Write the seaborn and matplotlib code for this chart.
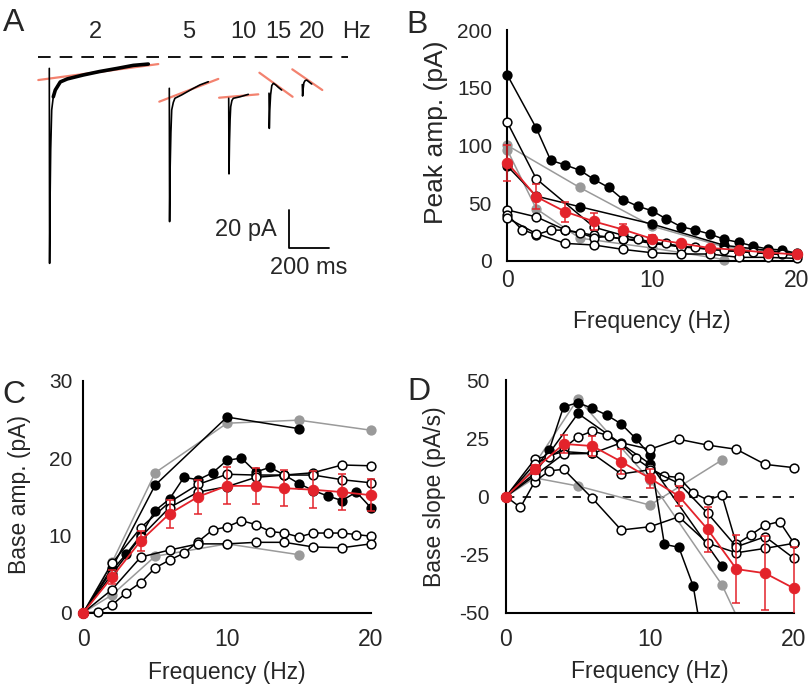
import matplotlib
matplotlib.use("Agg")
import matplotlib.pyplot as plt
import matplotlib.transforms as mtransforms
import seaborn as sns

sns.set_theme(style="white")
plt.rcParams['font.family'] = ['Liberation Sans', 'DejaVu Sans']
plt.rcParams['axes.unicode_minus'] = False

RED = '#e3232b'
GRAY = '#9a9a9a'
SALMON = '#f3826f'

# ---------------- panel A: example traces ----------------
# time (ms) from stimulus onset, current (pA) relative to the resting baseline
tr2_t = [0, 1.5, 4, 7, 12, 20, 30, 55, 90, 170, 250, 340, 420, 495]
tr2_i = [-5.9, -109.6, -75, -49, -28, -21, -17.4, -13.1, -11.5, -9.4, -7.6, -5.9, -4.3, -3.6]
tr5_t = [0, 1.5, 4, 8, 12, 20, 28, 62, 112, 153, 195]
tr5_i = [-16.5, -87.4, -60, -40, -28, -24, -21.8, -20, -17, -14.7, -13]
tr10_t = [0, 1.5, 4, 7, 10, 16, 23, 57, 98]
tr10_i = [-21.8, -62, -45, -33, -26.3, -23, -21.8, -21, -19.7]
tr15_t = [0, 1.5, 4, 8, 14, 22, 35, 47, 63]
tr15_i = [-19.1, -37.8, -28, -20, -15, -13.8, -14.8, -16, -17.4]
tr20_t = [0, 1.5, 4, 8, 14, 22, 35, 47]
tr20_i = [-14.5, -20.6, -17, -13.5, -12.4, -12.1, -13.2, -14.2]

# linear fits of the baseline drift (start t, start i, end t, end i)
fit2 = [-55, -12.1, 545, -3.6]
fit5 = [-50, -23.6, 245, -11.5]
fit10 = [-48, -21.5, 148, -19.7]
fit15 = [-48, -8.2, 118, -21.0]
fit20 = [-50, -6.4, 100, -17.4]

trace_freqs = ['2', '5', '10', '15', '20']

# ---------------- panel B: peak amplitude (pA) ----------------
b_black1_x = [0, 2, 3, 4, 5, 6, 7, 8, 9, 10, 11, 12, 13, 14, 15, 16, 17, 18, 19, 20]
b_black1_y = [161, 115, 87, 83, 78.5, 70.4, 63.5, 53, 47.3, 43.3, 36.1, 29.5, 26.6, 23.1,
              18.5, 15.9, 12.7, 10.1, 9.3, 6.4]
b_black2_x = [0, 2, 5, 10, 15, 20]
b_black2_y = [82, 56, 46.8, 31.8, 13.3, 6]
b_open1_x = [0, 2, 6, 8, 10, 12, 14, 16, 18, 20]
b_open1_y = [120, 71, 29, 22, 16, 12.5, 10, 8, 6, 5]
b_open2_x = [0, 2, 4, 6, 8, 10, 12, 14, 16, 18, 20]
b_open2_y = [44, 38, 26.7, 22, 19, 15, 12, 10, 8, 6.5, 5]
b_open3_x = list(range(0, 21))
b_open3_y = [40, 27, 22.5, 26.5, 26.5, 24, 20, 21, 18.5, 18.5, 15, 15, 12, 11.5, 10, 9,
             8.5, 7.5, 6.5, 6, 5]
b_open4_x = [0, 2, 4, 6, 8, 10, 12, 14, 16, 18, 20]
b_open4_y = [37, 23.5, 15, 13.6, 9.8, 6.9, 5.8, 5.8, 2.9, 2.9, 2.0]
b_gray1_x = [0, 5, 10, 15, 20]
b_gray1_y = [100, 63.5, 30, 12, 6]
b_gray2_x = [0, 2, 5, 10, 15]
b_gray2_y = [96, 45, 19.6, 11, 1]
b_mean_x = [0, 2, 4, 6, 8, 10, 12, 14, 16, 18, 20]
b_mean_y = [85, 55.5, 42.5, 34, 27, 19, 15, 11, 9.3, 7, 5.5]
b_mean_err = [15.5, 11, 8.6, 7, 5, 3.5, 2.5, 2, 1.5, 1.2, 1]

# ---------------- panel C: base amplitude (pA) ----------------
c_black1_x = [0, 2, 5, 10, 15]
c_black1_y = [0, 5.8, 16.5, 25.3, 23.8]
c_black2_x = [0, 2, 3, 4, 5, 6, 7, 8, 9, 10, 11, 12, 13, 14, 15, 16, 17, 18, 19, 20]
c_black2_y = [0, 5.5, 7.6, 10.0, 13.2, 14.7, 17.5, 17.2, 18.1, 19.7, 20.0, 18.2, 18.8,
              17.8, 16.7, 15.8, 15.1, 14.5, 15.6, 13.6]
c_open1_x = [0, 2, 4, 6, 8, 10, 12, 14, 16, 18, 20]
c_open1_y = [0, 6.4, 11.0, 14.3, 16.6, 17.9, 17.8, 17.8, 18.1, 19.1, 19.0]
c_open2_x = [0, 2, 4, 6, 8, 10, 12, 14, 16, 18, 20]
c_open2_y = [0, 5.0, 9.8, 13.6, 15.6, 16.3, 17.5, 17.8, 17.8, 17.2, 16.8]
c_open3_x = list(range(0, 21))
c_open3_y = [0, 0.05, 1.0, 2.6, 3.9, 5.8, 6.8, 7.7, 9.2, 10.7, 11.1, 11.9, 11.4, 10.5,
             10.3, 9.8, 10.3, 10.3, 10.3, 10.1, 9.9]
c_open4_x = [0, 2, 4, 6, 8, 10, 12, 14, 16, 18, 20]
c_open4_y = [0, 3.0, 7.2, 8.1, 8.9, 8.9, 9.1, 9.1, 8.5, 8.4, 8.9]
c_gray1_x = [0, 2, 5, 10, 15, 20]
c_gray1_y = [0, 6.5, 18.1, 24.5, 24.9, 23.6]
c_gray2_x = [0, 2, 5, 10, 15]
c_gray2_y = [0, 2.3, 7.3, 8.9, 7.5]
c_mean_x = [0, 2, 4, 6, 8, 10, 12, 14, 16, 18, 20]
c_mean_y = [0, 4.6, 9.3, 12.8, 15.0, 16.4, 16.4, 16.1, 15.9, 15.6, 15.2]
c_mean_err = [0, 0.9, 1.3, 1.8, 2.2, 2.4, 2.3, 2.3, 2.4, 2.3, 2.1]

# ---------------- panel D: base slope (pA/s) ----------------
d_black1_x = [0, 2, 3, 4, 5, 6, 7, 8, 9, 10, 11, 12, 13, 14]
d_black1_y = [0, 12, 20, 38.6, 40.3, 37.9, 35, 31.2, 25, 17.8, -20.6, -21.8, -38.5, -75]
d_black2_x = [0, 2, 5, 10, 15]
d_black2_y = [0, 10, 35.7, 14, -29.9]
d_open1_x = [0, 2, 4, 6, 8, 10, 12, 14, 16, 18, 20]
d_open1_y = [0, 16, 19.3, 18.5, 23.1, 20.3, 24.6, 22.1, 20.3, 13.8, 12.4]
d_open2_x = [0, 2, 3, 4, 5, 6, 7, 8, 9, 10, 11, 12, 13, 14, 15, 16, 17, 18, 19, 20]
d_open2_y = [0, 14, 17, 20.7, 25.7, 28.1, 26.4, 22.5, 16.4, 12.1, 8.8, 8.2, 1.6, -1.5,
             0.6, -20.5, -16.5, -12.3, -10.8, -20.1]
d_open3_x = [0, 1, 2, 3, 4, 6, 8, 10, 12, 14, 16, 18, 20]
d_open3_y = [0, -4.7, 6.4, 11, 11.7, -0.8, -14.4, -13, -8.7, -20.1, -24.2, -22.3, -20.1]
d_open4_x = [0, 2, 4, 6, 8, 10, 12, 14, 16, 18, 20]
d_open4_y = [0, 9, 18.3, 18.5, 9.7, 11.5, 5.7, -7.2, -21.6, -17.3, -26.6]
d_gray1_x = [0, 2, 5, 10, 15, 20]
d_gray1_y = [0, 14, 42, 7, -38, -104]
d_gray2_x = [0, 2, 5, 10, 15]
d_gray2_y = [0, 8, 4.5, -3.7, 15.7]
d_mean_x = [0, 2, 4, 6, 8, 10, 12, 14, 16, 18, 20]
d_mean_y = [0, 11.7, 22.6, 21.7, 15, 7.8, 0.2, -14.1, -31.2, -33, -39.5]
d_mean_err = [0, 2, 4, 4.5, 5.5, 4, 4.3, 9.8, 14.8, 16, 18]

# ---------------- figure ----------------
W, H = 808, 685
fig = plt.figure(figsize=(W / 100, H / 100), dpi=100)
# pixel coordinates measured from the top-left corner of the figure
to_px = mtransforms.Affine2D().scale(1 / W, -1 / H).translate(0, 1) + fig.transFigure


def place(xpx, ypx, xdata, ydata, xlim, ylim):
    # axes rectangle so that data xdata/ydata land on the given pixel positions
    sx = (xpx[1] - xpx[0]) / (xdata[1] - xdata[0])
    sy = (ypx[0] - ypx[1]) / (ydata[1] - ydata[0])
    left = xpx[0] - (xdata[0] - xlim[0]) * sx
    right = xpx[1] + (xlim[1] - xdata[1]) * sx
    bottom = ypx[0] + (ydata[0] - ylim[0]) * sy
    top = ypx[1] - (ylim[1] - ydata[1]) * sy
    return [left / W, 1 - bottom / H, (right - left) / W, (bottom - top) / H]


STYLES = {
    'black': dict(color='black', markerfacecolor='black', markeredgecolor='black'),
    'open': dict(color='black', markerfacecolor='white', markeredgecolor='black'),
    'gray': dict(color=GRAY, markerfacecolor=GRAY, markeredgecolor=GRAY),
}


def draw_cells(ax, cells):
    for kind, xs, ys in cells:
        sns.lineplot(x=xs, y=ys, ax=ax, marker='o', markersize=6.3, markeredgewidth=1.1,
                     linewidth=1.1, sort=False, zorder=3 if kind != 'gray' else 2,
                     **STYLES[kind])


def draw_mean(ax, xs, ys, err):
    ax.errorbar(xs, ys, yerr=err, fmt='none', ecolor=RED, elinewidth=1.1, capsize=3,
                capthick=1.1, zorder=5)
    sns.lineplot(x=xs, y=ys, ax=ax, color=RED, marker='o', markersize=7.5,
                 markerfacecolor=RED, markeredgecolor=RED, linewidth=1.3, sort=False, zorder=6)


def style_axes(ax, ydata, yticks, ypad, xpad, ylabel, ylab_px, xlab_px, ylab_size=16.5):
    ax.set_facecolor('none')
    for s in ['top', 'right']:
        ax.spines[s].set_visible(False)
    ax.spines['left'].set_position(('data', 0))
    ax.spines['bottom'].set_position(('data', ydata[0]))
    ax.spines['left'].set_bounds(ydata[0], ydata[1])
    ax.spines['bottom'].set_bounds(0, 20)
    for s in ['left', 'bottom']:
        ax.spines[s].set_linewidth(1.5)
        ax.spines[s].set_color('black')
    ax.set_xticks([0, 10, 20])
    ax.set_yticks(yticks)
    ax.set_yticklabels([str(t) for t in yticks])
    ax.tick_params(axis='both', direction='in', length=3, width=1, color='black')
    ax.tick_params(axis='y', labelsize=15, pad=ypad)
    ax.tick_params(axis='x', labelsize=16.5, pad=xpad)
    ax.set_xlabel('Frequency (Hz)', fontsize=16.5)
    ax.set_ylabel(ylabel, fontsize=ylab_size)
    ax.xaxis.set_label_coords(*xlab_px, transform=to_px)
    ax.yaxis.set_label_coords(*ylab_px, transform=to_px)
    ax.grid(False)


# ---- A ----
MS_PER_PX = 5.0
PX_PER_PA = 1.88
BASE_PX = 57.3
axA = fig.add_axes([0, 1 - 300 / H, 400 / W, 300 / H])
axA.set_xlim(0, 400 * MS_PER_PX)
axA.set_ylim(-(300 - BASE_PX) / PX_PER_PA, BASE_PX / PX_PER_PA)
axA.axis('off')

onsets = [246.5, 846.5, 1143.5, 1345, 1511.5]
traces = [(tr2_t, tr2_i, fit2), (tr5_t, tr5_i, fit5), (tr10_t, tr10_i, fit10),
          (tr15_t, tr15_i, fit15), (tr20_t, tr20_i, fit20)]
axA.plot([191.5, 1741.5], [0, 0], color='black', lw=1.3, dashes=(7, 5))
for (tt, ii, fit), t0 in zip(traces, onsets):
    axA.plot([t0 + fit[0], t0 + fit[2]], [fit[1], fit[3]], color=SALMON, lw=1.6, zorder=2)
    sns.lineplot(x=[t0 + t for t in tt], y=ii, ax=axA, color='black', lw=1.2, sort=False,
                 zorder=3)
# noisy slow component of the 2 Hz trace is drawn thicker
axA.plot([onsets[0] + t for t in tr2_t[5:]], tr2_i[5:], color='black', lw=2.6, zorder=3,
         solid_capstyle='round')

for lab, xpos in zip(trace_freqs + ['Hz'], [478, 945, 1215, 1390, 1560, 1785]):
    axA.text(xpos, 13.6, lab, ha='center', va='center', fontsize=17)

# scale bar 20 pA / 200 ms
sb_x, sb_y = 1443.5, -101.3
axA.plot([sb_x, sb_x, sb_x + 200], [sb_y + 20, sb_y, sb_y], color='black', lw=1.3)
axA.text(1382, -91.9, '20 pA', ha='right', va='center', fontsize=17)
axA.text(1541, -112, '200 ms', ha='center', va='center', fontsize=17)

# ---- B ----
axB = fig.add_axes(place((507.3, 796.7), (260.7, 30.0), (0, 20), (0, 200),
                         (-0.6, 20.6), (-6, 206)))
axB.set_xlim(-0.6, 20.6)
axB.set_ylim(-6, 206)
draw_cells(axB, [('gray', b_gray1_x, b_gray1_y), ('gray', b_gray2_x, b_gray2_y),
                 ('black', b_black1_x, b_black1_y), ('black', b_black2_x, b_black2_y),
                 ('open', b_open1_x, b_open1_y), ('open', b_open2_x, b_open2_y),
                 ('open', b_open3_x, b_open3_y), ('open', b_open4_x, b_open4_y)])
draw_mean(axB, b_mean_x, b_mean_y, b_mean_err)
style_axes(axB, (0, 200), [0, 50, 100, 150, 200], 11, 6, 'Peak amp. (pA)',
           (448, 132), (652, 310.5), ylab_size=19)

# ---- C ----
axC = fig.add_axes(place((83.3, 370.7), (612.7, 380.7), (0, 20), (0, 30),
                         (-0.6, 20.6), (-0.9, 30.9)))
axC.set_xlim(-0.6, 20.6)
axC.set_ylim(-0.9, 30.9)
draw_cells(axC, [('gray', c_gray1_x, c_gray1_y), ('gray', c_gray2_x, c_gray2_y),
                 ('black', c_black1_x, c_black1_y), ('black', c_black2_x, c_black2_y),
                 ('open', c_open1_x, c_open1_y), ('open', c_open2_x, c_open2_y),
                 ('open', c_open3_x, c_open3_y), ('open', c_open4_x, c_open4_y)])
draw_mean(axC, c_mean_x, c_mean_y, c_mean_err)
style_axes(axC, (0, 30), [0, 10, 20, 30], 8, 11, 'Base amp. (pA)',
           (31, 494), (227, 661))

# ---- D ----
axD = fig.add_axes(place((506, 794), (612.8, 380.2), (0, 20), (-50, 50),
                         (-0.6, 20.6), (-50, 53)))
axD.set_xlim(-0.6, 20.6)
axD.set_ylim(-50, 53)
axD.plot([0, 20], [0, 0], color='black', lw=1.2, dashes=(5, 5), zorder=1)
draw_cells(axD, [('gray', d_gray1_x, d_gray1_y), ('gray', d_gray2_x, d_gray2_y),
                 ('black', d_black1_x, d_black1_y), ('black', d_black2_x, d_black2_y),
                 ('open', d_open1_x, d_open1_y), ('open', d_open2_x, d_open2_y),
                 ('open', d_open3_x, d_open3_y), ('open', d_open4_x, d_open4_y)])
draw_mean(axD, d_mean_x, d_mean_y, d_mean_err)
style_axes(axD, (-50, 50), [-50, -25, 0, 25, 50], 12, 11, 'Base slope (pA/s)',
           (446, 497), (650, 660.5))

# keep markers on the axes lines visible, but clip lines leaving panel D
for ax in (axB, axC):
    for ln in ax.lines:
        ln.set_clip_on(False)

for letter, (fx, fy) in zip('ABCD', [(3, 8), (406, 10), (2, 380), (407, 377)]):
    fig.text(fx / W, 1 - fy / H, letter, fontsize=23, ha='left', va='top')

fig.savefig('out.png', dpi=100)
